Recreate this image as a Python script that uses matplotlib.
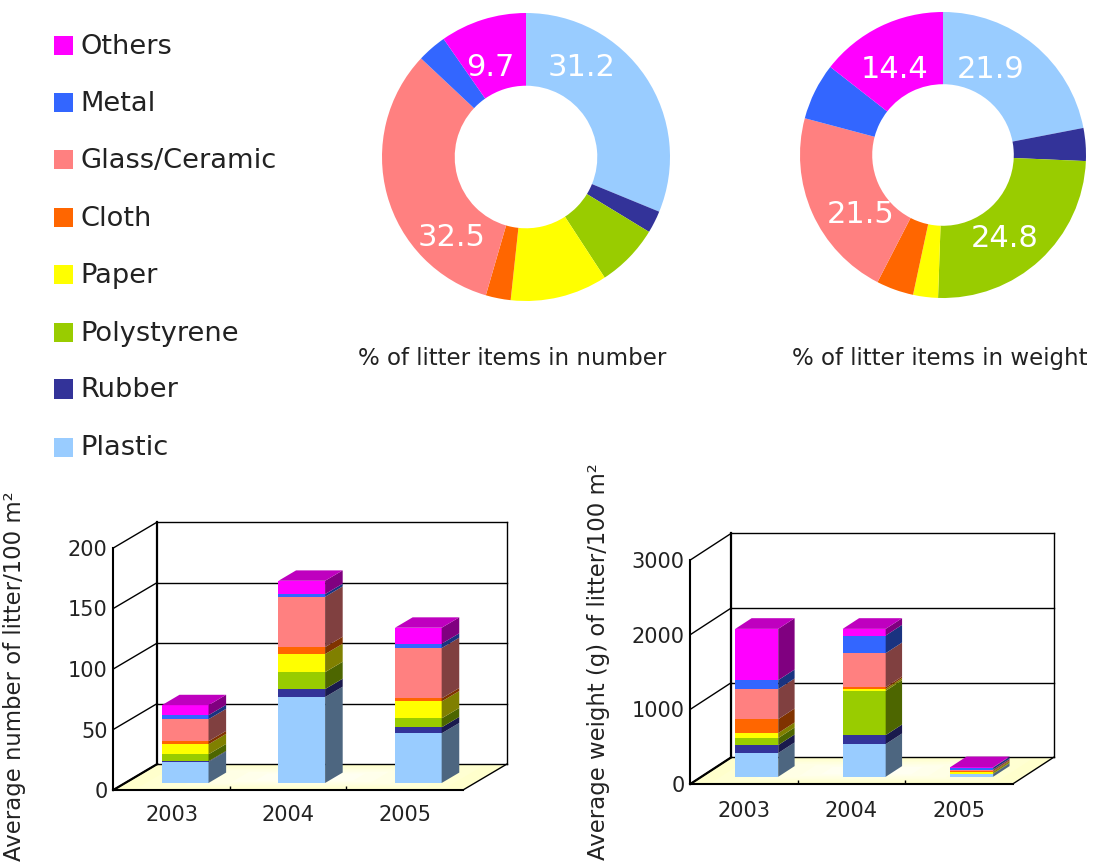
import numpy as np
import matplotlib.pyplot as plt
from matplotlib.colors import to_rgb
plt.rcParams['font.family'] = ['DejaVu Sans']

W, H = 1093, 863

materials = ['Plastic', 'Rubber', 'Polystyrene', 'Paper', 'Cloth', 'Glass/Ceramic', 'Metal', 'Others']
colors = ['#99CCFF', '#333399', '#99CC00', '#FFFF00', '#FF6600', '#FF8080', '#3366FF', '#FF00FF']
years = ['2003', '2004', '2005']

pct_number = [31.2, 2.5, 7.1, 10.9, 2.8, 32.5, 3.3, 9.7]
pct_weight = [21.9, 3.7, 24.8, 2.8, 4.2, 21.5, 6.4, 14.4]

# one row per year, stacked in the order of materials
count_2003 = [17.4, 0.5, 5.8, 8.3, 2.5, 18.2, 3.3, 8.3]
count_2004 = [71.0, 6.6, 14.0, 14.9, 5.8, 41.6, 2.2, 11.0]
count_2005 = [41.0, 5.0, 7.4, 14.0, 2.5, 41.6, 3.6, 13.2]
weight_2003 = [317, 107, 94, 67, 187, 402, 120, 687]
weight_2004 = [437, 120, 594, 27, 22, 455, 237, 89]
weight_2005 = [36, 4, 4, 22, 9, 22, 27, 4]

fig = plt.figure(figsize=(W / 100, H / 100), dpi=100, facecolor='white')


def px_axes(x0, ytop, x1, ybot):
    return fig.add_axes([x0 / W, 1 - ybot / H, (x1 - x0) / W, (ybot - ytop) / H])


def shade(col, f):
    return tuple(c * f for c in to_rgb(col))


def donut(cx, cy, r, values):
    ax = px_axes(cx - r, cy - r, cx + r, cy + r)
    ax.pie(values, colors=colors, startangle=90, counterclock=False, radius=1,
           wedgeprops=dict(width=0.505, linewidth=0))
    ax.set_xlim(-1, 1)
    ax.set_ylim(-1, 1)


def chart3d(x0, xr, y0, ytop, ymax, step, ddx, ddy, rows, ylabel, ylab_x, ylab_top, lab_pad):
    ax = px_axes(x0, ytop, xr, y0)
    ax.patch.set_visible(False)
    ax.set_xlim(0, 3)
    ax.set_ylim(0, ymax)
    dx = ddx / ((xr - x0) / 3)
    dy = ddy / ((y0 - ytop) / ymax)

    # floor, paler towards the middle
    for i, t in enumerate(np.linspace(0, 0.42, 8)):
        c = (1, 1, 0.80 + 0.17 * i / 7)
        ax.fill([dx * t + 3 * t, 3 - 3 * t + dx * t, 3 - 3 * t + dx * (1 - t), 3 * t + dx * (1 - t)],
                [dy * t, dy * t, dy * (1 - t), dy * (1 - t)],
                color=c, lw=0, clip_on=False, zorder=1)

    # walls and grid
    for v in np.arange(0, ymax + 1, step):
        ax.plot([0, dx], [v, v + dy], color='black', lw=1, clip_on=False, zorder=2)
        ax.plot([dx, 3 + dx], [v + dy, v + dy], color='black', lw=1, clip_on=False, zorder=2)
    ax.plot([dx, dx], [dy, ymax + dy], color='black', lw=1.6, clip_on=False, zorder=2)
    ax.plot([3 + dx, 3 + dx], [dy, ymax + dy], color='black', lw=1, clip_on=False, zorder=2)
    ax.plot([3, 3 + dx], [0, dy], color='black', lw=1, clip_on=False, zorder=2)
    ax.plot([0, dx], [0, dy], color='black', lw=1.6, clip_on=False, zorder=2)

    # stacked bars: front, side and a cap on the top segment
    d0, d1 = 0.27, 0.67
    bw = 0.40
    sx = dx * (d1 - d0)
    sy = dy * (d1 - d0)
    for j, vals in enumerate(rows):
        left = j + 0.515 + dx * d0 - bw / 2
        bottom = dy * d0
        for v, col in zip(vals, colors):
            ax.bar(left, v, bw, bottom=bottom, align='edge', color=col, lw=0, clip_on=False, zorder=3)
            r = left + bw
            ax.fill([r, r + sx, r + sx, r], [bottom, bottom + sy, bottom + v + sy, bottom + v],
                    color=shade(col, 0.5), lw=0, clip_on=False, zorder=3)
            bottom += v
        ax.fill([left, left + bw, left + bw + sx, left + sx],
                [bottom, bottom, bottom + sy, bottom + sy],
                color=shade(colors[-1], 0.75), lw=0, clip_on=False, zorder=3)

    for s in ['top', 'right']:
        ax.spines[s].set_visible(False)
    for s in ['left', 'bottom']:
        ax.spines[s].set_linewidth(1.5)
    ax.set_yticks(np.arange(0, ymax + 1, step))
    ax.set_xticks([0.5, 1.5, 2.5], years)
    ax.set_xticks([1, 2], minor=True)
    ax.tick_params(axis='both', which='major', length=0, labelsize=15, labelcolor='#222222')
    ax.tick_params(axis='y', pad=4)
    ax.tick_params(axis='x', pad=lab_pad)
    ax.tick_params(axis='x', which='minor', direction='in', length=3, width=1)
    fig.text(ylab_x / W, 1 - ylab_top / H, ylabel, rotation=90, ha='center', va='top',
             fontsize=16.4, color='#222222')


donut(526, 157, 144, pct_number)
donut(943, 155, 143, pct_weight)

chart3d(113.3, 463, 790, 548, 200, 50, 44, 26,
        [count_2003, count_2004, count_2005],
        'Average number of litter/100 m\u00b2', 15, 491, 11)
chart3d(690.3, 1012.7, 784, 560, 3000, 1000, 41, 26.7,
        [weight_2003, weight_2004, weight_2005],
        'Average weight (g) of litter/100 m\u00b2', 598, 463, 12)

# legend, captions and value labels in pixel coordinates
ov = fig.add_axes([0, 0, 1, 1])
ov.set_xlim(0, W)
ov.set_ylim(H, 0)
ov.axis('off')

legend_y = [447, 389, 333, 275, 218, 160, 103, 46]
for name, col, y in zip(materials, colors, legend_y):
    ov.fill([54, 73, 73, 54], [y - 9.5, y - 9.5, y + 9.5, y + 9.5], color=col, lw=0)
    ov.text(80, y + 1, name, fontsize=19.6, va='center', ha='left', color='#222222')

ov.text(512, 358, '% of litter items in number', fontsize=16.5, ha='center', va='center', color='#222222')
ov.text(940, 358, '% of litter items in weight', fontsize=16.5, ha='center', va='center', color='#222222')

for v, x, y in [(pct_number[0], 582, 68), (pct_number[7], 490, 68), (pct_number[5], 452, 237),
                (pct_weight[7], 895, 69), (pct_weight[0], 991, 69),
                (pct_weight[2], 1005, 238), (pct_weight[5], 861, 214)]:
    ov.text(x, y, str(v), fontsize=22, color='white', ha='center', va='center')

fig.savefig('out.png', dpi=100)
